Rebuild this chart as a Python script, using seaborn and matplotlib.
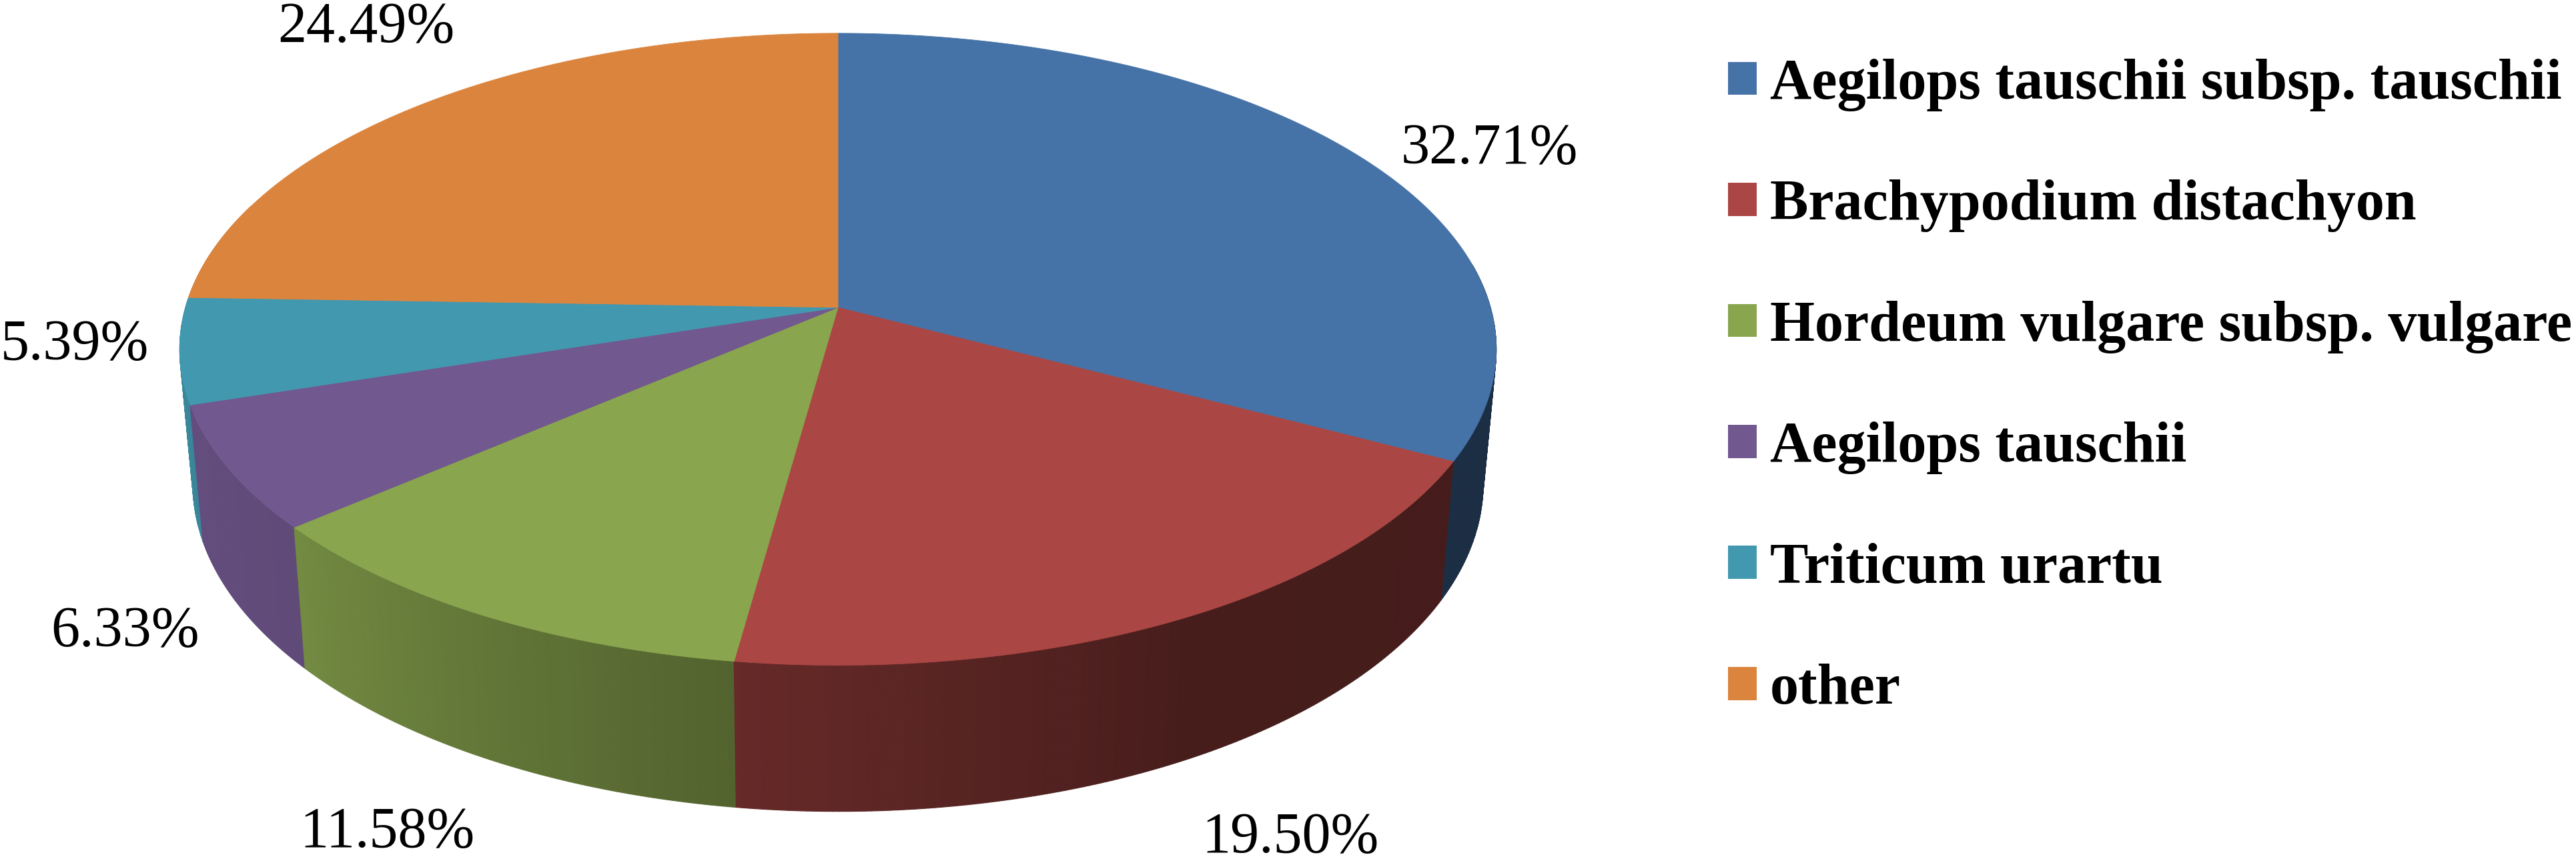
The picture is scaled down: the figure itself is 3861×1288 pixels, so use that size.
import numpy as np
import matplotlib
matplotlib.use("Agg")
import matplotlib.pyplot as plt
from matplotlib.collections import PolyCollection
from matplotlib.patches import Patch
import seaborn as sns

species = ["Aegilops tauschii subsp. tauschii", "Brachypodium distachyon",
           "Hordeum vulgare subsp. vulgare", "Aegilops tauschii",
           "Triticum urartu", "other"]
shares = [32.71, 19.50, 11.58, 6.33, 5.39, 24.49]
base_hex = ["#4572A7", "#AA4643", "#89A54E", "#71588F", "#4198AF", "#DB843D"]
label_xy = [(2232, 245), (1934, 1278), (581, 1270), (188, 969), (112, 539), (549, 63)]

sns.set_theme(style="white")
plt.rcParams["font.family"] = ["Liberation Serif", "DejaVu Serif"]
palette = sns.color_palette(base_hex)

W, H = 3862, 1288
fig = plt.figure(figsize=(W / 100, H / 100), dpi=100, facecolor="white")
ax = fig.add_axes([0, 0, 1, 1])
ax.set_xlim(0, W)
ax.set_ylim(H, 0)
ax.axis("off")

# perspective projection of a disc
CX, CY, A, C, K, DROP, SHRINK = 1256, 461, 978, 465.5, 0.1323, 199.5, 0.98


def project(t, bottom=False):
    X, Y = np.cos(t), np.sin(t)
    s = 1 / (1 + K * Y)
    if bottom:
        return CX + SHRINK * A * X * s, CY + (-SHRINK * C * Y + DROP) * s
    return CX + A * X * s, CY - C * Y * s


def wall_shade(deg):
    return np.interp(deg, [-190, -172, -140, -98, -60, 20], [0.92, 0.90, 0.84, 0.60, 0.41, 0.40])


edges = np.radians(90 - 3.6 * np.concatenate([[0], np.cumsum(shares)]))

# side walls, drawn back to front
polys, cols, depth = [], [], []
for i, col in enumerate(palette):
    lo, hi = edges[i + 1], edges[i]
    lo2, hi2 = max(lo, np.radians(-200)), min(hi, np.radians(8))
    if lo2 >= hi2:
        continue
    ts = np.linspace(hi2, lo2, max(2, int(np.degrees(hi2 - lo2)) * 2 + 1))
    for t0, t1 in zip(ts[:-1], ts[1:]):
        x0, y0 = project(t0)
        x1, y1 = project(t1)
        x2, y2 = project(t1, True)
        x3, y3 = project(t0, True)
        polys.append([(x0, y0), (x1, y1), (x2, y2), (x3, y3)])
        f = wall_shade(np.degrees((t0 + t1) / 2))
        cols.append(tuple(c * f for c in col))
        depth.append(np.sin((t0 + t1) / 2))
order = np.argsort(depth)[::-1]
ax.add_collection(PolyCollection([polys[j] for j in order],
                                 facecolors=[cols[j] for j in order],
                                 edgecolors=[cols[j] for j in order], linewidths=0.8))

# top face
for i, col in enumerate(palette):
    ts = np.linspace(edges[i], edges[i + 1], 240)
    x, y = project(ts)
    ax.fill(np.r_[CX, x], np.r_[CY, y], facecolor=col, edgecolor=col, linewidth=0.6)

for v, (lx, ly) in zip(shares, label_xy):
    ax.text(lx, ly, f"{v:.2f}%", fontsize=62, ha="center", va="baseline", color="black")

FS = 62
em = FS * 100 / 72
handles = [Patch(facecolor=c, edgecolor="none") for c in palette]
leg = ax.legend(handles, species, loc="upper left", bbox_to_anchor=(2590 / W, 1 - 88 / H),
                frameon=False, borderpad=0, borderaxespad=0,
                prop={"family": "Liberation Serif", "weight": "bold", "size": FS},
                handlelength=43 / em, handleheight=44 / em,
                handletextpad=20 / em, labelspacing=1.19)
for t in leg.get_texts():
    t.set_color("black")

fig.savefig("out.png", dpi=100, facecolor="white")
